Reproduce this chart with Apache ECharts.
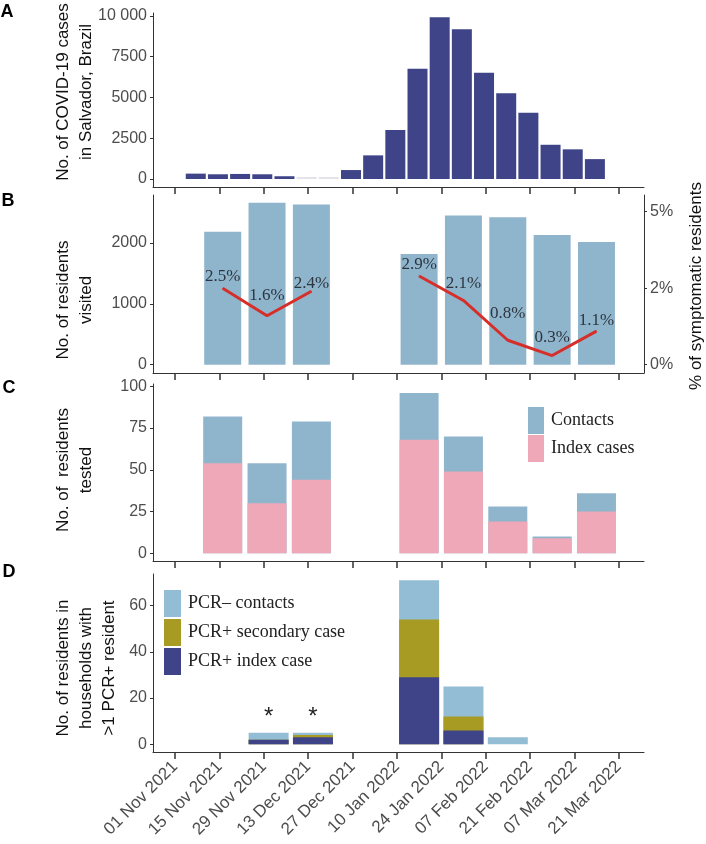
<!DOCTYPE html>
<html>
<head>
<meta charset="utf-8">
<script src="https://cdn.jsdelivr.net/npm/echarts@6.0.0/dist/echarts.min.js"></script>
<style>
  html, body { margin: 0; padding: 0; background: #fff; }
  #chart { width: 706px; height: 844px; }
</style>
</head>
<body>
<div id="chart"></div>
<script>
// x positions are days since 01 Nov 2021
const tickDays = [0, 14, 28, 42, 56, 70, 84, 98, 112, 126, 140];
const tickLabels = ['01 Nov 2021', '15 Nov 2021', '29 Nov 2021', '13 Dec 2021', '27 Dec 2021',
  '10 Jan 2022', '24 Jan 2022', '07 Feb 2022', '21 Feb 2022', '07 Mar 2022', '21 Mar 2022'];

// A: weekly COVID-19 cases in Salvador
const caseDays = [6.5, 13.5, 20.5, 27.5, 34.5, 41.5, 48.5, 55.5, 62.5, 69.5, 76.5, 83.5, 90.5, 97.5, 104.5, 111.5, 118.5, 125.5, 132.5];
const caseCounts = [330, 290, 310, 290, 170, 0, 0, 550, 1450, 3000, 6760, 9920, 9180, 6510, 5260, 4060, 2100, 1820, 1220];
const caseTicks = [0, 2500, 5000, 7500, 10000];
const caseTickLabels = ['0', '2500', '5000', '7500', '10 000'];

// B: residents visited + % symptomatic
const visitDays = [15, 29, 43, 77, 91, 105, 119, 133];
const visited = [2185, 2660, 2630, 1820, 2450, 2420, 2130, 2015];
const symptomaticPct = [2.5, 1.6, 2.4, 2.9, 2.1, 0.8, 0.3, 1.1];
const visitTicks = [0, 1000, 2000];
const pctTicks = [0, 2.5, 5];
const pctTickLabels = ['0%', '2%', '5%'];

// C: residents tested
const testedIndex = [54, 30, 44, 68, 49, 19, 9, 25];
const testedContacts = [28, 24, 35, 28, 21, 9, 1, 11];
const testedTicks = [0, 25, 50, 75, 100];

// D: households with >1 PCR+ resident
const hhDays = [29.5, 43.5, 77, 91, 105];
const hhIndex = [2, 3, 29, 6, 0];
const hhSecondary = [0, 1, 25, 6, 0];
const hhNegContacts = [3, 1, 17, 13, 3];
const hhMarks = ['*', '*', '', '', ''];
const hhTicks = [0, 20, 40, 60];

// label lift above each % point (px), styling only
const pctLabelLift = [12, 20, 8, 11, 17, 27, 18, 11];

const SANS = 'Liberation Sans';
const SERIF = 'Liberation Serif';
const NAVY = '#3f4489';
const LIGHTBLUE = '#8fb5cc';
const PINK = '#eea8b8';
const OLIVE = '#a89b24';
const PALEBLUE = '#93bdd4';
const RED = '#d62f2a';
const AXIS = '#333';

const chart = echarts.init(document.getElementById('chart'));

const grids = [
  {left: 153, right: 62, top: 13, height: 174},
  {left: 153, right: 62, top: 195, height: 178},
  {left: 153, right: 62, top: 384, height: 177},
  {left: 153, right: 62, top: 574, height: 178}
].map(g => Object.assign({outerBoundsMode: 'none', containLabel: false}, g));

const xAxes = grids.map((g, i) => ({
  type: 'value',
  gridIndex: i,
  min: -7,
  max: 148,
  splitLine: {show: false},
  axisLine: {show: true, onZero: false, lineStyle: {color: AXIS, width: 1}},
  axisTick: {show: true, customValues: tickDays, length: 7, lineStyle: {color: AXIS, width: 1.5}},
  axisLabel: {
    show: i === 3,
    customValues: tickDays,
    rotate: 45,
    margin: 12,
    fontFamily: SANS,
    fontSize: 17,
    color: '#4d4d4d',
    formatter: v => tickLabels[tickDays.indexOf(v)]
  }
}));

function yAxis(gridIndex, min, max, ticks, labels, position) {
  return {
    type: 'value',
    gridIndex: gridIndex,
    position: position || 'left',
    min: min,
    max: max,
    splitLine: {show: false},
    axisLine: {show: true, onZero: false, lineStyle: {color: AXIS, width: 1}},
    axisTick: {show: true, customValues: ticks, length: 3, lineStyle: {color: AXIS, width: 1}},
    axisLabel: {
      customValues: ticks,
      margin: 6,
      fontFamily: SANS,
      fontSize: 16,
      color: '#4d4d4d',
      formatter: v => labels ? labels[ticks.indexOf(v)] : String(v)
    }
  };
}

const yAxes = [
  yAxis(0, -490, 10180, caseTicks, caseTickLabels),
  yAxis(1, -136, 2787, visitTicks),
  yAxis(1, -0.27, 5.545, pctTicks, pctTickLabels, 'right'),
  yAxis(2, -4.6, 101.4, testedTicks),
  yAxis(3, -3.33, 73.7, hhTicks)
];

// line data, broken between the two survey periods
const pctLine = [];
visitDays.forEach((d, i) => {
  if (i > 0 && d - visitDays[i - 1] > 14) pctLine.push([(d + visitDays[i - 1]) / 2, '-']);
  pctLine.push({
    value: [d, symptomaticPct[i]],
    label: {offset: [0, -pctLabelLift[i]]}
  });
});

const pair = (days, vals) => days.map((d, i) => [d, vals[i]]);
// cumulative tops for layered (stacked-looking) bars
const addUp = (...arrs) => arrs[0].map((_, i) => arrs.reduce((s, a) => s + a[i], 0));

const series = [
  {
    name: 'Cases', type: 'bar', xAxisIndex: 0, yAxisIndex: 0,
    barWidth: 20, barMinHeight: 2,
    data: pair(caseDays, caseCounts),
    itemStyle: {color: p => p.value[1] === 0 ? '#e4e4e8' : NAVY}
  },
  {
    name: 'Visited', type: 'bar', xAxisIndex: 1, yAxisIndex: 1,
    barWidth: 37,
    data: pair(visitDays, visited),
    itemStyle: {color: LIGHTBLUE}
  },
  {
    name: 'Symptomatic', type: 'line', xAxisIndex: 1, yAxisIndex: 2,
    data: pctLine,
    connectNulls: false,
    symbol: 'circle', symbolSize: 1,
    itemStyle: {color: RED},
    lineStyle: {color: RED, width: 3},
    label: {
      show: true, position: 'inside',
      fontFamily: SERIF, fontSize: 17, color: '#2d3540',
      formatter: p => p.value[1].toFixed(1) + '%'
    },
    z: 5
  },
  // C: contacts sit on top of index cases
  {
    name: 'Contacts', type: 'bar', xAxisIndex: 2, yAxisIndex: 3,
    barWidth: 39, barGap: '-100%',
    data: pair(visitDays, addUp(testedIndex, testedContacts)),
    itemStyle: {color: LIGHTBLUE}
  },
  {
    name: 'Index cases', type: 'bar', xAxisIndex: 2, yAxisIndex: 3,
    barWidth: 39, barGap: '-100%',
    data: pair(visitDays, testedIndex),
    itemStyle: {color: PINK}
  },
  // D: index, then secondary, then PCR- contacts on top
  {
    name: 'PCR– contacts', type: 'bar', xAxisIndex: 3, yAxisIndex: 4,
    barWidth: 40, barGap: '-100%',
    data: pair(hhDays, addUp(hhIndex, hhSecondary, hhNegContacts)),
    itemStyle: {color: PALEBLUE},
    label: {
      show: true, position: 'top', distance: 3,
      fontFamily: SANS, fontSize: 24, color: '#222',
      formatter: p => hhMarks[p.dataIndex]
    }
  },
  {
    name: 'PCR+ secondary case', type: 'bar', xAxisIndex: 3, yAxisIndex: 4,
    barWidth: 40, barGap: '-100%',
    data: pair(hhDays, addUp(hhIndex, hhSecondary)),
    itemStyle: {color: OLIVE}
  },
  {
    name: 'PCR+ index case', type: 'bar', xAxisIndex: 3, yAxisIndex: 4,
    barWidth: 40, barGap: '-100%',
    data: pair(hhDays, hhIndex),
    itemStyle: {color: NAVY}
  }
];

const legendText = {fontFamily: SERIF, fontSize: 18, color: '#222', padding: [0, 0, 0, 2]};

const legends = [
  {
    data: ['Contacts', 'Index cases'],
    left: 528, top: 407, orient: 'vertical', padding: 0,
    icon: 'rect', itemWidth: 16, itemHeight: 27, itemGap: 1,
    selectedMode: false, textStyle: legendText
  },
  {
    data: ['PCR– contacts', 'PCR+ secondary case', 'PCR+ index case'],
    left: 164, top: 590, orient: 'vertical', padding: 0,
    icon: 'rect', itemWidth: 17, itemHeight: 27, itemGap: 2,
    selectedMode: false, textStyle: legendText
  }
];

function vText(x, y, text) {
  return {
    type: 'text', x: x, y: y, rotation: Math.PI / 2,
    style: {
      text: text, fontFamily: SANS, fontSize: 17, fill: '#111',
      align: 'center', verticalAlign: 'middle', lineHeight: 23
    }
  };
}

function letter(x, y, text) {
  return {
    type: 'text', x: x, y: y,
    style: {
      text: text, fontFamily: SANS, fontWeight: 'bold', fontSize: 18, fill: '#000',
      align: 'center', verticalAlign: 'middle'
    }
  };
}

const graphics = [
  letter(7, 12, 'A'),
  letter(8, 201, 'B'),
  letter(9, 388, 'C'),
  letter(9, 572, 'D'),
  vText(74.5, 92, 'No. of COVID-19 cases\nin Salvador, Brazil'),
  vText(74.5, 300, 'No. of residents\nvisited'),
  vText(74.5, 470, 'No. of  residents\ntested'),
  vText(86, 668, 'No. of residents in\nhouseholds with\n>1 PCR+ resident'),
  vText(696, 286, '% of symptomatic residents')
];

chart.setOption({
  backgroundColor: '#fff',
  animation: false,
  grid: grids,
  xAxis: xAxes,
  yAxis: yAxes,
  legend: legends,
  series: series,
  graphic: graphics
});
</script>
</body>
</html>
